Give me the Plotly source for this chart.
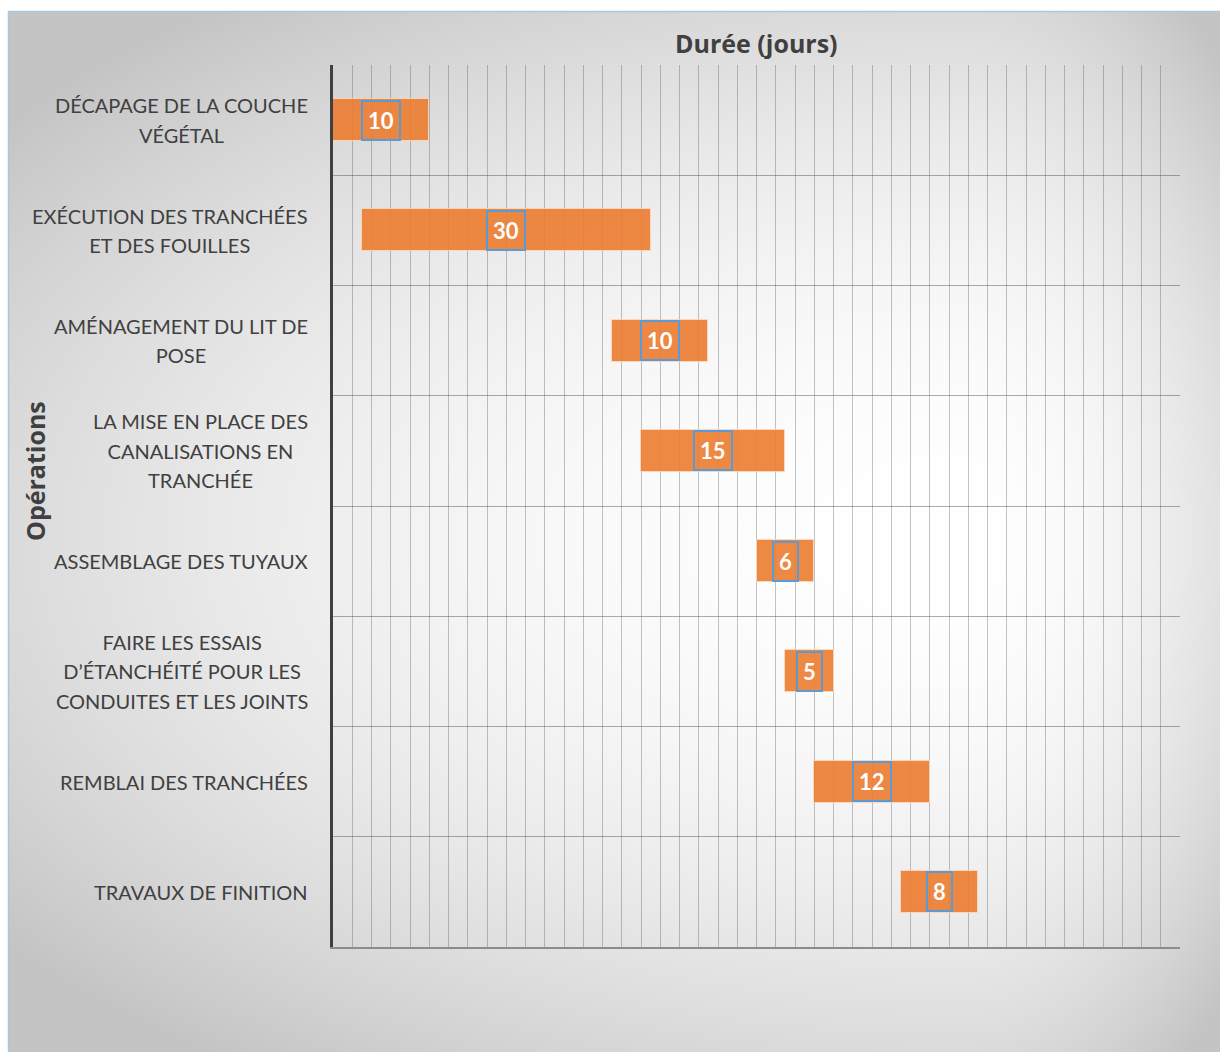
import base64
import struct
import zlib

import numpy as np
import plotly.graph_objects as go

# ---------------- data ----------------
operations = [
    "DÉCAPAGE DE LA COUCHE<br>VÉGÉTAL",
    "EXÉCUTION DES TRANCHÉES<br>ET DES FOUILLES",
    "AMÉNAGEMENT DU LIT DE<br>POSE",
    "LA MISE EN PLACE DES<br>CANALISATIONS EN<br>TRANCHÉE",
    "ASSEMBLAGE DES TUYAUX",
    "FAIRE LES ESSAIS<br>D’ÉTANCHÉITÉ POUR LES<br>CONDUITES ET LES JOINTS",
    "REMBLAI DES TRANCHÉES",
    "TRAVAUX DE FINITION",
]
start_days = [0, 3, 29, 32, 44, 47, 50, 59]
durations = [10, 30, 10, 15, 6, 5, 12, 8]
x_title = "Durée (jours)"
y_title = "Opérations"

# ---------------- layout geometry (pixels) ----------------
FIG_W, FIG_H = 1220, 1052
L, R, T, B = 333, 1180, 65, 947
PW, PH = R - L, B - T
LAB_SIZE = 20
LINE_SP = 29.5                 # wanted distance between label lines
PLOTLY_SP = 1.3 * LAB_SIZE     # plotly's own line spacing


def px2x(p):
    return (p - L) / PW


def py2y(p):
    return (B - p) / PH


# ---------------- background gradient image ----------------
def make_png(arr):
    h, w = arr.shape
    raw = b"".join(b"\x00" + arr[i].tobytes() for i in range(h))

    def chunk(t, d):
        c = struct.pack(">I", len(d)) + t + d
        return c + struct.pack(">I", zlib.crc32(t + d) & 0xFFFFFFFF)

    return (b"\x89PNG\r\n\x1a\n"
            + chunk(b"IHDR", struct.pack(">IIBBBBB", w, h, 8, 0, 0, 0, 0))
            + chunk(b"IDAT", zlib.compress(raw, 9))
            + chunk(b"IEND", b""))


BX0, BY0, BX1, BY1 = 8, 11, 1220, 1052
scale = 2
gw, gh = (BX1 - BX0) // scale, (BY1 - BY0) // scale
xs = BX0 + (np.arange(gw) + 0.5) * scale
ys = BY0 + (np.arange(gh) + 0.5) * scale
X, Y = np.meshgrid(xs, ys)
cx, cy = 960.0, 540.0
ax = np.where(X >= cx, BX1 - cx + 30, cx - BX0)
ay = np.where(Y >= cy, BY1 - cy, cy - BY0)
r = np.sqrt(((X - cx) / ax) ** 2 + ((Y - cy) / ay) ** 2)
val = 255 - 36 * r ** 2
val = np.clip(val, 196, 255).astype(np.uint8)
bg_src = "data:image/png;base64," + base64.b64encode(make_png(val)).decode()

# ---------------- figure ----------------
n = len(operations)
ypos = list(range(n))

fig = go.Figure()
fig.add_trace(go.Bar(
    y=ypos,
    x=durations,
    base=start_days,
    orientation="h",
    width=0.38,
    marker=dict(color="#ED7D31", line=dict(color="rgba(255,215,185,0.9)", width=1)),
    opacity=0.9,
    hoverinfo="skip",
    showlegend=False,
))

annotations = []
# data labels
for i, (s, d) in enumerate(zip(start_days, durations)):
    annotations.append(dict(
        x=s + d / 2, y=i, xref="x", yref="y",
        text=f"<b>{d}</b>", showarrow=False,
        font=dict(family="Lato", size=22, color="white"),
        bordercolor="#5B9BD5", borderwidth=2, borderpad=5,
        xanchor="center", yanchor="middle",
    ))

# category labels: one annotation per visible line; the other lines are kept
# invisible so that centring is done on the whole block, and each line is
# shifted to get a wider line spacing.
HIDE = '<span style="color:rgba(0,0,0,0)">{}</span>'
for i, lab in enumerate(operations):
    lines = lab.split("<br>")
    m = len(lines)
    for k in range(m):
        txt = "<br>".join(l if j == k else HIDE.format(l) for j, l in enumerate(lines))
        annotations.append(dict(
            x=px2x(310), y=i, xref="paper", yref="y",
            text=txt, showarrow=False, align="center",
            xanchor="right", yanchor="middle",
            yshift=-(k - (m - 1) / 2) * (LINE_SP - PLOTLY_SP),
            font=dict(family="Lato", size=LAB_SIZE, color="#404040"),
        ))

# axis titles
annotations.append(dict(
    x=0.5, y=py2y(43), xref="paper", yref="paper",
    text=f"<b>{x_title}</b>", showarrow=False,
    xanchor="center", yanchor="middle",
    font=dict(family="Open Sans", size=25, color="#404040"),
))
annotations.append(dict(
    x=px2x(35), y=py2y(471), xref="paper", yref="paper",
    text=f"<b>{y_title}</b>", showarrow=False, textangle=-90,
    xanchor="center", yanchor="middle",
    font=dict(family="Open Sans", size=25, color="#404040"),
))

shapes = [
    dict(type="line", xref="paper", yref="paper",
         x0=px2x(BX0), x1=px2x(BX1), y0=py2y(BY0 + 0.5), y1=py2y(BY0 + 0.5),
         line=dict(color="#A7C7E7", width=1.5)),
    dict(type="line", xref="paper", yref="paper",
         x0=px2x(BX0 + 0.5), x1=px2x(BX0 + 0.5), y0=py2y(BY0), y1=py2y(BY1),
         line=dict(color="#A7C7E7", width=1.5)),
]

fig.update_layout(
    width=FIG_W, height=FIG_H,
    margin=dict(l=L, r=FIG_W - R, t=T, b=FIG_H - B, pad=0),
    paper_bgcolor="white",
    plot_bgcolor="rgba(0,0,0,0)",
    images=[dict(source=bg_src, xref="paper", yref="paper",
                 x=px2x(BX0), y=py2y(BY0),
                 sizex=(BX1 - BX0) / PW, sizey=(BY1 - BY0) / PH,
                 sizing="stretch", xanchor="left", yanchor="top",
                 layer="below")],
    annotations=annotations,
    shapes=shapes,
    bargap=0,
    xaxis=dict(
        range=[0, 88], tickmode="linear", tick0=0, dtick=2,
        showticklabels=False, ticks="",
        showgrid=True, gridcolor="rgba(90,90,90,0.36)", gridwidth=1,
        zeroline=False,
        showline=True, linecolor="#8C8C8C", linewidth=1.5,
        fixedrange=True,
    ),
    yaxis=dict(
        range=[n - 0.5, -0.5], tickmode="linear", tick0=0.5, dtick=1,
        showticklabels=False, ticks="",
        showgrid=True, gridcolor="rgba(70,70,70,0.45)", gridwidth=1,
        zeroline=False,
        showline=True, linecolor="#404040", linewidth=3,
        fixedrange=True,
    ),
)

fig.write_html("out.html")
